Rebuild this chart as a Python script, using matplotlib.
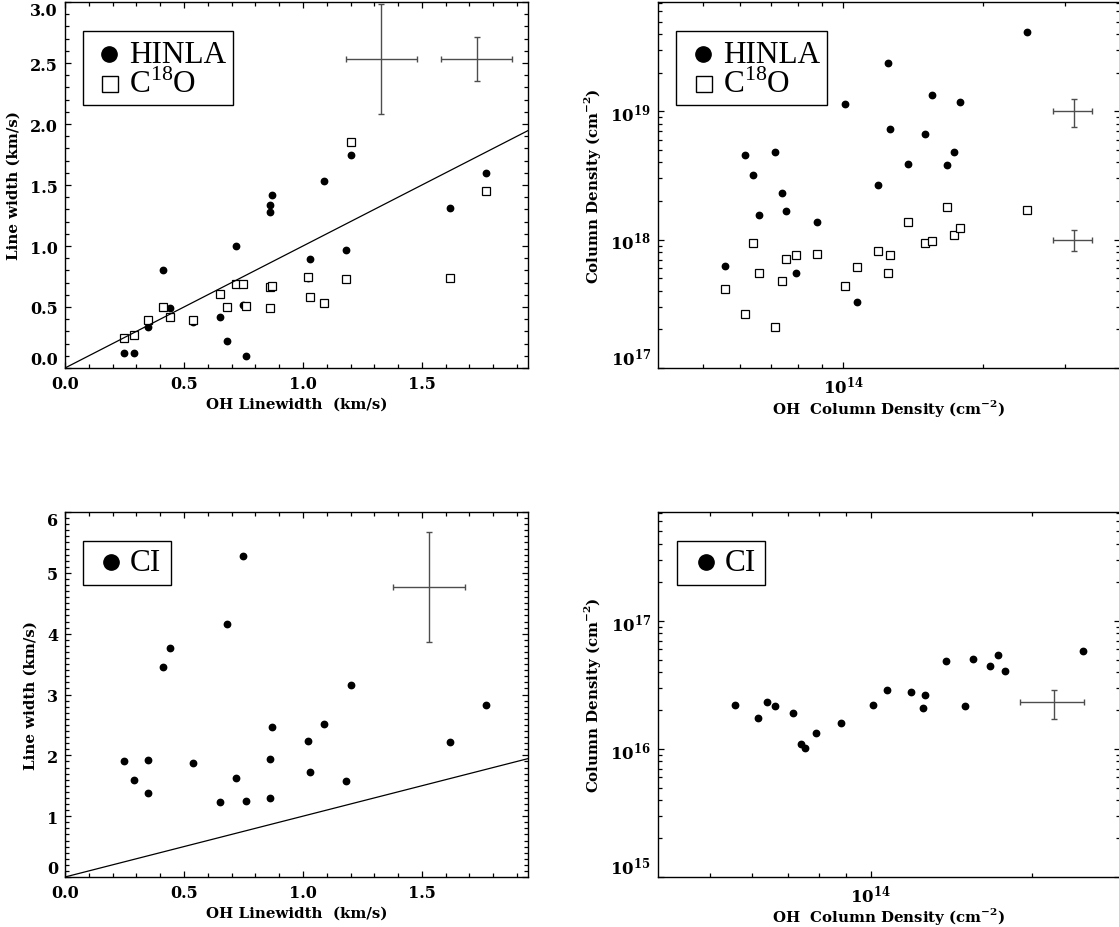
import math
import matplotlib
matplotlib.use("Agg")
import matplotlib.pyplot as plt
from matplotlib.patches import Rectangle
from matplotlib.ticker import FixedLocator, NullFormatter, FuncFormatter, FormatStrFormatter

# OH linewidth vs other tracers (km/s)
oh_width = [0.25, 0.29, 0.35, 0.41, 0.44, 0.54, 0.65, 0.68, 0.72, 0.75, 0.76,
            0.86, 0.86, 0.87, 1.02, 1.03, 1.09, 1.18, 1.20, 1.62, 1.77]
hinla_width = [0.12, 0.12, 0.34, 0.80, 0.49, 0.38, 0.42, 0.22, 1.00, 0.52, 0.10,
               1.28, 1.34, 1.42, 0.74, 0.89, 1.53, 0.97, 1.75, 1.31, 1.60]
c18o_width = [0.25, 0.27, 0.39, 0.50, 0.42, 0.39, 0.61, 0.50, 0.69, 0.69, 0.51,
              0.49, 0.66, 0.67, 0.75, 0.58, 0.53, 0.73, 1.85, 0.74, 1.45]

oh_width_ci = [0.25, 0.29, 0.35, 0.35, 0.41, 0.44, 0.54, 0.65, 0.68, 0.72, 0.75,
               0.76, 0.86, 0.86, 0.87, 1.02, 1.03, 1.09, 1.18, 1.20, 1.62, 1.77]
ci_width = [1.90, 1.59, 1.93, 1.38, 3.46, 3.76, 1.87, 1.23, 4.16, 1.63, 5.27,
            1.25, 1.94, 1.30, 2.46, 2.24, 1.72, 2.52, 1.58, 3.16, 2.22, 2.82]

# column densities (cm^-2)
oh_col = [5.58e13, 6.16e13, 6.40e13, 6.61e13, 7.15e13, 7.40e13, 7.53e13, 7.91e13,
          8.79e13, 1.01e14, 1.07e14, 1.19e14, 1.25e14, 1.26e14, 1.38e14, 1.50e14,
          1.55e14, 1.67e14, 1.73e14, 1.78e14, 2.49e14]
hinla_col = [6.19e17, 4.59e18, 3.20e18, 1.56e18, 4.84e18, 2.29e18, 1.66e18, 5.46e17,
             1.37e18, 1.13e19, 3.24e17, 2.66e18, 2.39e19, 7.32e18, 3.88e18, 6.65e18,
             1.35e19, 3.81e18, 4.79e18, 1.18e19, 4.12e19]
c18o_col = [4.09e17, 2.64e17, 9.48e17, 5.52e17, 2.09e17, 4.78e17, 7.02e17, 7.55e17,
            7.68e17, 4.32e17, 6.11e17, 8.20e17, 5.49e17, 7.59e17, 1.37e18, 9.48e17,
            9.82e17, 1.78e18, 1.09e18, 1.24e18, 1.70e18]
ci_col = [2.20e16, 1.74e16, 2.34e16, 2.15e16, 1.90e16, 1.09e16, 1.01e16, 1.33e16,
          1.59e16, 2.20e16, 2.90e16, 2.79e16, 2.09e16, 2.62e16, 4.89e16, 2.15e16,
          5.01e16, 4.47e16, 5.42e16, 4.08e16, 5.86e16]

# one-to-one line
unity = [0.0, 1.95]

# typical error bars: x, y, xerr, yerr
err_width = [(1.33, 2.53, 0.15, 0.45), (1.73, 2.53, 0.15, 0.18)]
err_col = [(3.13e14, 1.0e19, 3.0e13, 2.5e18), (3.13e14, 1.0e18, 3.0e13, 1.8e17)]
err_ci_width = [(1.53, 4.77, 0.15, 0.90)]
err_ci_col = [(2.20e14, 2.31e16, 3.0e13, 0.6e16)]

plt.rcParams["font.family"] = "DejaVu Serif"
plt.rcParams["font.weight"] = "bold"
plt.rcParams["mathtext.fontset"] = "custom"
plt.rcParams["mathtext.rm"] = "Liberation Serif:weight=normal"
plt.rcParams["mathtext.bf"] = "DejaVu Serif:bold"

fig = plt.figure(figsize=(11.19, 9.28), dpi=100)
W, H = 1119.0, 928.0

def add_ax(x0, x1, y0, y1):
    return fig.add_axes([x0 / W, 1 - y1 / H, (x1 - x0) / W, (y1 - y0) / H])

ax1 = add_ax(65, 528, 3, 369)
ax2 = add_ax(658, 1120, 3, 369)
ax3 = add_ax(65, 528, 513, 878)
ax4 = add_ax(658, 1120, 513, 878)

dot = dict(ls="none", marker="o", ms=4.6, mfc="black", mec="black")
box = dict(ls="none", marker="s", ms=5.4, mfc="white", mec="black", mew=0.9)
ebar = dict(fmt="none", ecolor="0.3", elinewidth=1.0, capsize=2.5, capthick=1.0)
legend_font = {"family": "Liberation Serif", "weight": "normal", "size": 22.5}
label_font = {"family": "DejaVu Serif", "weight": "bold", "size": 10.8}


def style(ax, tick_size=11.5):
    for s in ax.spines.values():
        s.set_linewidth(1.0)
    ax.tick_params(which="both", direction="in", top=True, right=True,
                   labelsize=tick_size, width=0.9, pad=5, color="black")
    ax.tick_params(which="major", length=4.6)
    ax.tick_params(which="minor", length=2.6)


def edge_labels(ax):
    # keep the end labels of the y axis inside the frame
    ticks = ax.yaxis.get_major_ticks()
    ticks[0].label1.set_va("bottom")
    lo, hi = ax.get_ylim()
    if abs(ax.yaxis.get_majorticklocs()[-1] - hi) < 1e-9 * max(1.0, abs(hi)):
        ticks[-1].label1.set_va("top")


def frame_box(ax, x0, x1, y0, y1):
    ax.add_patch(Rectangle((x0, y0), x1 - x0, y1 - y0, transform=ax.transAxes,
                           fill=False, ec="black", lw=1.0, zorder=5))


def legend_entry(ax, mx, my, mstyle, tx, ty, text):
    ax.plot([mx], [my], transform=ax.transAxes, clip_on=False, **mstyle)
    ax.text(tx, ty, text, transform=ax.transAxes, va="baseline", ha="left",
            fontdict=legend_font)


big_dot = dict(ls="none", marker="o", ms=11, mfc="black", mec="black")
big_box = dict(ls="none", marker="s", ms=11.5, mfc="white", mec="black", mew=1.0)


def two_entry_legend(ax, dx=0.0):
    frame_box(ax, 0.038 + dx, 0.363 + dx, 0.719, 0.921)
    legend_entry(ax, 0.096 + dx, 0.858, big_dot, 0.138 + dx, 0.837, "HINLA")
    legend_entry(ax, 0.098 + dx, 0.776, big_box, 0.138 + dx, 0.754, "C$^{18}$O")


def ci_legend(ax, dx=0.0):
    frame_box(ax, 0.038 + dx, 0.228 + dx, 0.801, 0.921)
    legend_entry(ax, 0.099 + dx, 0.863, big_dot, 0.140 + dx, 0.841, "CI")


def set_labels(ax, xlabel, ylabel, ylab_x):
    ax.set_xlabel(xlabel, fontdict=label_font)
    ax.set_ylabel(ylabel, fontdict=label_font)
    ax.xaxis.set_label_coords(0.5, -0.078)
    ax.yaxis.set_label_coords(ylab_x, 0.5)


# panel 1: line widths
ax1.plot(oh_width, hinla_width, **dot)
ax1.plot(oh_width, c18o_width, **box)
ax1.plot(unity, unity, color="black", lw=0.9)
for x, y, xe, ye in err_width:
    ax1.errorbar(x, y, xerr=xe, yerr=ye, **ebar)
ax1.set_xlim(0, 1.946)
ax1.set_ylim(0, 3.0)
ax1.xaxis.set_major_locator(FixedLocator([0.0, 0.5, 1.0, 1.5]))
ax1.xaxis.set_minor_locator(FixedLocator([i / 10 for i in range(20)]))
ax1.yaxis.set_major_locator(FixedLocator([0.0, 0.5, 1.0, 1.5, 2.0, 2.5, 3.0]))
ax1.yaxis.set_minor_locator(FixedLocator([i / 10 for i in range(31)]))
ax1.xaxis.set_major_formatter(FormatStrFormatter("%.1f"))
ax1.yaxis.set_major_formatter(FormatStrFormatter("%.1f"))
style(ax1)
edge_labels(ax1)
set_labels(ax1, "OH Linewidth  (km/s)", "Line width (km/s)", -0.095)
two_entry_legend(ax1)

# panel 3: CI line widths
ax3.plot(oh_width_ci, ci_width, **dot)
ax3.plot(unity, unity, color="black", lw=0.9)
for x, y, xe, ye in err_ci_width:
    ax3.errorbar(x, y, xerr=xe, yerr=ye, **ebar)
ax3.set_xlim(0, 1.946)
ax3.set_ylim(0, 6.0)
ax3.xaxis.set_major_locator(FixedLocator([0.0, 0.5, 1.0, 1.5]))
ax3.xaxis.set_minor_locator(FixedLocator([i / 10 for i in range(20)]))
ax3.yaxis.set_major_locator(FixedLocator([0, 1, 2, 3, 4, 5, 6]))
ax3.yaxis.set_minor_locator(FixedLocator([i / 10 for i in range(61)]))
ax3.xaxis.set_major_formatter(FormatStrFormatter("%.1f"))
ax3.yaxis.set_major_formatter(FormatStrFormatter("%d"))
style(ax3)
edge_labels(ax3)
set_labels(ax3, "OH Linewidth  (km/s)", "Line width (km/s)", -0.058)
ci_legend(ax3)


# log panels
def log_fmt(v, pos):
    return r"$\mathbf{10^{%d}}$" % int(round(math.log10(v)))


def log_axes(ax, xlim, ylim, ydecades):
    ax.set_xscale("log")
    ax.set_yscale("log")
    ax.set_xlim(*xlim)
    ax.set_ylim(*ylim)
    ax.xaxis.set_major_locator(FixedLocator([1e14]))
    ax.xaxis.set_minor_locator(FixedLocator([m * 1e13 for m in range(5, 10)] +
                                            [2e14, 3e14, 4e14]))
    ax.xaxis.set_major_formatter(FuncFormatter(log_fmt))
    ax.xaxis.set_minor_formatter(NullFormatter())
    ax.yaxis.set_major_locator(FixedLocator([10.0 ** d for d in ydecades]))
    ax.yaxis.set_minor_locator(FixedLocator([m * 10.0 ** d for d in ydecades
                                             for m in range(2, 10)]))
    ax.yaxis.set_major_formatter(FuncFormatter(log_fmt))
    ax.yaxis.set_minor_formatter(NullFormatter())
    style(ax, tick_size=12)
    ax.yaxis.get_major_ticks()[0].label1.set_va("bottom")
    set_labels(ax, "OH  Column Density (cm$^{\\mathbf{-2}}$)",
               "Column Density (cm$^{\\mathbf{-2}}$)", -0.119)


ax2.plot(oh_col, hinla_col, **dot)
ax2.plot(oh_col, c18o_col, **box)
for x, y, xe, ye in err_col:
    ax2.errorbar(x, y, xerr=xe, yerr=ye, **ebar)
log_axes(ax2, (4e13, 3.94e14), (1e17, 7.1e19), [17, 18, 19])
two_entry_legend(ax2, dx=0.002)

ax4.plot(oh_col, ci_col, **dot)
for x, y, xe, ye in err_ci_col:
    ax4.errorbar(x, y, xerr=xe, yerr=ye, **ebar)
log_axes(ax4, (4e13, 2.92e14), (1e15, 7.1e17), [15, 16, 17])
ci_legend(ax4, dx=0.004)

fig.savefig("out.png", dpi=100)
